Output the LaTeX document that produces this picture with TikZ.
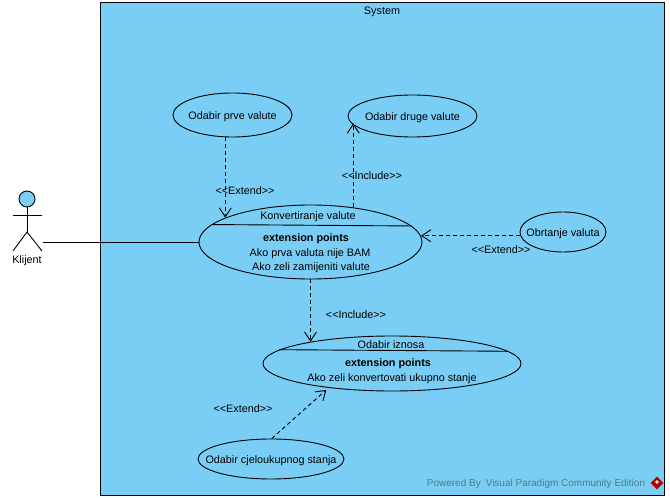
\documentclass[tikz,border=0pt]{standalone}
\usepackage{fontspec}
\setmainfont{Liberation Sans}
\usetikzlibrary{shapes.geometric, arrows.meta}

\definecolor{sysblue}{HTML}{7ACEF5}
\newcommand{\stereo}[1]{<{}<#1>{}>}
\tikzset{
    usecase/.style={draw, ellipse, fill=sysblue, inner sep=0pt},
    dep/.style={->, dash pattern=on 4pt off 3pt},
    every label/.style={yshift=-1.5pt},
}

\begin{document}
\begin{tikzpicture}[x=1pt, y=-1pt, font=\fontsize{10.8}{13}\selectfont, line width=0.9pt, >={Straight Barb[length=9pt, width=12pt]}]
    \useasboundingbox (0,0) rectangle (670,500);
    \node[draw, fill=sysblue, minimum width=564pt, minimum height=493pt, inner sep=0pt] (system) at (382,248.5) {};
    \node (systemname) at (382,12) {System};
    
    % actor
    \node[draw, circle, fill=sysblue, minimum size=16pt, inner sep=0pt] (head) at (27,199) {};
    \coordinate (hip) at (27,232);
    \coordinate (armleft) at (13,215);
    \coordinate (armright) at (42,215);
    \coordinate (legleft) at (13,251);
    \coordinate (legright) at (42,251);
    \coordinate (actorend) at (43,242);
    \draw (head) -- (hip);
    \draw (armleft) -- (armright);
    \draw (legleft) -- (hip) -- (legright);
    \node (klijent) at (27,261) {Klijent};
    
    % use cases
    \node[usecase, minimum width=119pt, minimum height=44pt, label=center:{Odabir prve valute}] (prva) at (232.5,115) {};
    \node[usecase, minimum width=129pt, minimum height=42pt, label=center:{Odabir druge valute}] (druga) at (412.5,116) {};
    \node[usecase, minimum width=223pt, minimum height=74pt] (konv) at (310.5,242) {};
    \node[usecase, minimum width=258pt, minimum height=55pt] (iznos) at (392,363.5) {};
    \node[usecase, minimum width=86pt, minimum height=40pt, label=center:{Obrtanje valuta}] (obrtanje) at (563,232) {};
    \node[usecase, minimum width=146pt, minimum height=40pt, label=center:{Odabir cjeloukupnog stanja}] (stanje) at (271,459) {};
    
    \draw (konv.170.3) -- (konv.9.7);
    \node (konvname) at (308,217) {Konvertiranje valute};
    \node (konvext) at (306,239) {\textbf{extension points}};
    \node (konvone) at (310,254) {Ako prva valuta nije BAM};
    \node (konvtwo) at (311,268) {Ako zeli zamijeniti valute};
    
    \draw (iznos.173.8) -- (iznos.6.2);
    \node (iznosname) at (391,345) {Odabir iznosa};
    \node (iznosext) at (388,364) {\textbf{extension points}};
    \node (iznosone) at (392,379) {Ako zeli konvertovati ukupno stanje};
    
    % connectors
    \draw (actorend) -- (konv.180);
    \draw[dep] (prva.252.8) -- (prva.252.8 |- konv.164.2);
    \draw[dep] (konv.39.4) -- (konv.39.4 |- druga.187.1);
    \draw[dep] (obrtanje.185.8) -- (konv.3.1 |- obrtanje.185.8);
    \draw[dep] (konv.270) -- (konv.270 |- iznos.165.4);
    \draw[dep, shorten >=3pt] (stanje.88) -- (iznos.201);
    
    \node (extendone) at (245,191) {\stereo{Extend}};
    \node (includeone) at (372,176) {\stereo{Include}};
    \node (extendtwo) at (501,250) {\stereo{Extend}};
    \node (includetwo) at (356,315) {\stereo{Include}};
    \node (extendthree) at (243,409) {\stereo{Extend}};
    
    % watermark
    \node[font=\fontsize{10}{12}\selectfont, text=black!45!sysblue!70!gray] (powered) at (536,484) {Powered By\hspace{5pt}Visual Paradigm Community Edition};
    \node[diamond, fill=red!70!black, minimum size=13pt, inner sep=0pt] (logo) at (657,483) {};
    \node[diamond, fill=white, minimum size=4pt, inner sep=0pt] (logomark) at (657,482) {};
\end{tikzpicture}
\end{document}
